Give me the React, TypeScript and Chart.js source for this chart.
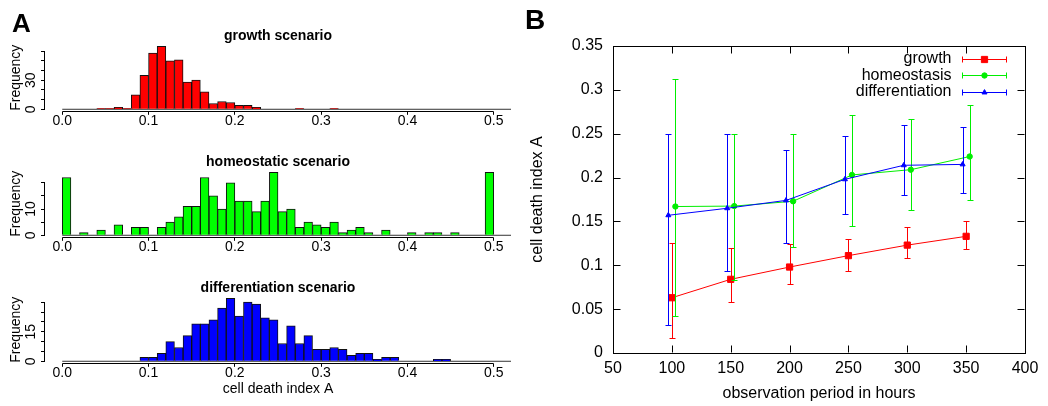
import React, { useEffect, useRef } from "react";
import { Chart, registerables } from "chart.js";

Chart.register(...registerables);

const FONT = '"Liberation Sans", Arial, Helvetica, sans-serif';
Chart.defaults.font.family = FONT;
Chart.defaults.color = "#000";

// ---------------- Panel A: histograms (bins 0.00-0.50, width 0.01) ----------------
const binCenters = [
  0.005, 0.015, 0.025, 0.035, 0.045, 0.055, 0.065, 0.075, 0.085, 0.095,
  0.105, 0.115, 0.125, 0.135, 0.145, 0.155, 0.165, 0.175, 0.185, 0.195,
  0.205, 0.215, 0.225, 0.235, 0.245, 0.255, 0.265, 0.275, 0.285, 0.295,
  0.305, 0.315, 0.325, 0.335, 0.345, 0.355, 0.365, 0.375, 0.385, 0.395,
  0.405, 0.415, 0.425, 0.435, 0.445, 0.455, 0.465, 0.475, 0.485, 0.495,
];
const baselineExtent = [0, 0.52];
const histXTicks = [0, 0.1, 0.2, 0.3, 0.4, 0.5];
const histXTickLabels = ["0.0", "0.1", "0.2", "0.3", "0.4", "0.5"];

const growthCounts = [
  0, 0, 0, 0, 1, 1, 2, 1, 15, 35,
  58, 65, 50, 51, 28, 30, 18, 6, 8, 7,
  4, 4, 2, 0, 0, 0, 0, 1, 0, 0,
  0, 1, 0, 0, 0, 0, 0, 0, 0, 0,
  0, 0, 0, 0, 0, 0, 0, 0, 0, 0,
];
const growthYTicks = [0, 10, 20, 30, 40, 50, 60];
const growthYTickLabels = ["0", "", "", "30", "", "", ""];

const homeoCounts = [
  22, 0, 1, 0, 2, 0, 4, 0, 3, 3,
  0, 3, 5, 7, 11, 11, 22, 15, 10, 20,
  13, 13, 9, 13, 24, 9, 10, 3, 5, 4,
  3, 5, 1, 2, 3, 1, 0, 2, 0, 0,
  1, 0, 1, 1, 0, 1, 0, 0, 0, 24,
];
const homeoYTicks = [0, 5, 10, 15, 20];
const homeoYTickLabels = ["0", "", "10", "", ""];

const diffCounts = [
  0, 0, 0, 0, 0, 0, 0, 0, 0, 2,
  2, 4, 10, 7, 13, 19, 19, 21, 27, 32,
  23, 30, 29, 22, 21, 9, 18, 9, 13, 6,
  6, 7, 6, 3, 4, 4, 1, 2, 2, 0,
  0, 0, 0, 1, 1, 0, 0, 0, 0, 0,
];
const diffYTicks = [0, 5, 10, 15, 20, 25, 30];
const diffYTickLabels = ["0", "", "", "15", "", "", ""];

// ---------------- Panel B: mean cell death index vs observation period ----------------
const hoursGrowth = [100, 150, 200, 250, 300, 350];
const growthMean = [0.063, 0.084, 0.098, 0.111, 0.123, 0.133];
const growthLow = [0.017, 0.058, 0.079, 0.094, 0.108, 0.118];
const growthHigh = [0.125, 0.12, 0.124, 0.13, 0.144, 0.151];

const hoursHomeo = [103, 153, 203, 253, 303, 353];
const homeoMean = [0.167, 0.1675, 0.173, 0.203, 0.209, 0.224];
const homeoLow = [0.042, 0.083, 0.121, 0.1445, 0.163, 0.174];
const homeoHigh = [0.312, 0.25, 0.25, 0.271, 0.2665, 0.283];

const hoursDiff = [97, 147, 197, 247, 297, 347];
const diffMean = [0.157, 0.165, 0.174, 0.198, 0.214, 0.215];
const diffLow = [0.0315, 0.094, 0.125, 0.158, 0.18, 0.182];
const diffHigh = [0.25, 0.25, 0.232, 0.247, 0.2605, 0.258];

const xTicksB = [50, 100, 150, 200, 250, 300, 350, 400];
const xTickLabelsB = ["50", "100", "150", "200", "250", "300", "350", "400"];
const yTicksB = [0, 0.05, 0.1, 0.15, 0.2, 0.25, 0.3, 0.35];
const yTickLabelsB = ["0", "0.05", "0.1", "0.15", "0.2", "0.25", "0.3", "0.35"];

// ---------------- plugins ----------------
const histAxesPlugin = {
  id: "histAxes",
  afterDraw(chart: any) {
    const { ctx, chartArea: a, scales } = chart;
    const x = scales.x;
    const y = scales.y;
    ctx.save();
    ctx.strokeStyle = "#000";
    ctx.lineWidth = 1;
    const yb = Math.round(a.bottom - 0.5) + 0.5;
    const xl = Math.round(a.left) - 0.5;
    ctx.beginPath();
    ctx.moveTo(x.getPixelForValue(x.ticks[0].value), yb);
    ctx.lineTo(x.getPixelForValue(x.ticks[x.ticks.length - 1].value), yb);
    ctx.moveTo(xl, y.getPixelForValue(y.ticks[0].value));
    ctx.lineTo(xl, y.getPixelForValue(y.ticks[y.ticks.length - 1].value));
    ctx.stroke();
    ctx.restore();
  },
};

const TICK_COLOR = "#000";
// inward (gnuplot-style) tick marks on all four sides of the frame
const innerTicksPlugin = {
  id: "innerTicks",
  afterDraw(chart: any) {
    const { ctx, chartArea: a, scales } = chart;
    const x = scales.x;
    const y = scales.y;
    const L = Math.round(a.left) + 0.5;
    const R = Math.round(a.right) - 0.5;
    const T = Math.round(a.top) + 0.5;
    const B = Math.round(a.bottom) - 0.5;
    const tl = 7;
    ctx.save();
    ctx.strokeStyle = TICK_COLOR;
    ctx.lineWidth = 1;
    ctx.beginPath();
    x.ticks.forEach((t: any) => {
      const px = Math.round(x.getPixelForValue(t.value)) + 0.5;
      ctx.moveTo(px, B);
      ctx.lineTo(px, B - tl);
      ctx.moveTo(px, T);
      ctx.lineTo(px, T + tl);
    });
    y.ticks.forEach((t: any) => {
      const py = Math.round(y.getPixelForValue(t.value)) + 0.5;
      ctx.moveTo(L, py);
      ctx.lineTo(L + tl, py);
      ctx.moveTo(R, py);
      ctx.lineTo(R - tl, py);
    });
    ctx.stroke();
    ctx.restore();
  },
};

const errorBarsPlugin = {
  id: "errorBars",
  beforeDatasetDraw(chart: any, args: any) {
    const ds = chart.data.datasets[args.index];
    if (!ds.errLow) return;
    const { ctx, scales } = chart;
    const x = scales.x;
    const y = scales.y;
    ctx.save();
    ctx.strokeStyle = ds.borderColor;
    ctx.lineWidth = 1;
    ctx.beginPath();
    ds.data.forEach((p: any, i: number) => {
      const px = Math.round(x.getPixelForValue(p.x)) + 0.5;
      const y1 = Math.round(y.getPixelForValue(ds.errLow[i])) + 0.5;
      const y2 = Math.round(y.getPixelForValue(ds.errHigh[i])) + 0.5;
      ctx.moveTo(px, y1);
      ctx.lineTo(px, y2);
      ctx.moveTo(px - 3, y1);
      ctx.lineTo(px + 3, y1);
      ctx.moveTo(px - 3, y2);
      ctx.lineTo(px + 3, y2);
    });
    ctx.stroke();
    ctx.restore();
  },
};

function drawMarker(ctx: CanvasRenderingContext2D, style: string, r: number, cx: number, cy: number, color: string) {
  ctx.fillStyle = color;
  ctx.strokeStyle = color;
  ctx.lineWidth = 1;
  ctx.beginPath();
  if (style === "rect") {
    const s = r * Math.SQRT1_2;
    ctx.rect(cx - s, cy - s, 2 * s, 2 * s);
  } else if (style === "triangle") {
    ctx.moveTo(cx, cy - r);
    ctx.lineTo(cx + r * Math.sin((2 * Math.PI) / 3), cy - r * Math.cos((2 * Math.PI) / 3));
    ctx.lineTo(cx + r * Math.sin((4 * Math.PI) / 3), cy - r * Math.cos((4 * Math.PI) / 3));
    ctx.closePath();
  } else {
    ctx.arc(cx, cy, r, 0, Math.PI * 2);
  }
  ctx.fill();
  ctx.stroke();
}

const keyPlugin = {
  id: "gnuplotKey",
  afterDatasetsDraw(chart: any) {
    const { ctx, chartArea: a } = chart;
    ctx.save();
    chart.data.datasets.forEach((ds: any, i: number) => {
      const cy = a.top + 12.6 + i * 16.5;
      const ry = Math.round(cy) + 0.5;
      ctx.font = `16px ${FONT}`;
      ctx.fillStyle = "#000";
      ctx.textAlign = "right";
      ctx.textBaseline = "middle";
      ctx.fillText(ds.label, a.right - 73.5, cy);
      const x1 = Math.round(a.right - 63.5) + 0.5;
      const x2 = Math.round(a.right - 19.5) + 0.5;
      ctx.strokeStyle = ds.borderColor;
      ctx.lineWidth = 1;
      ctx.beginPath();
      ctx.moveTo(x1, ry);
      ctx.lineTo(x2, ry);
      ctx.moveTo(x1, ry - 3);
      ctx.lineTo(x1, ry + 3);
      ctx.moveTo(x2, ry - 3);
      ctx.lineTo(x2, ry + 3);
      ctx.stroke();
      drawMarker(ctx, ds.pointStyle, ds.pointRadius, (x1 + x2) / 2, ry, ds.borderColor);
    });
    ctx.restore();
  },
};

// ---------------- components ----------------
type HistProps = {
  top: number;
  height: number;
  title: string;
  counts: number[];
  color: string;
  yTicks: number[];
  yTickLabels: string[];
  xTitle?: string;
};

function Histogram(p: HistProps) {
  const ref = useRef<HTMLCanvasElement>(null);
  useEffect(() => {
    const maxCount = Math.max(...p.counts);
    const chart = new Chart(ref.current as HTMLCanvasElement, {
      type: "bar",
      data: {
        datasets: [
          {
            type: "bar",
            data: binCenters.map((x, i) => ({ x, y: p.counts[i] })),
            backgroundColor: p.color,
            borderColor: "#111",
            borderWidth: 1,
            barPercentage: 1,
            categoryPercentage: 1,
            order: 0,
          } as any,
          {
            type: "line",
            data: baselineExtent.map((x) => ({ x, y: 0 })),
            borderColor: "#333",
            borderWidth: 1,
            pointRadius: 0,
            order: 1,
          } as any,
        ],
      },
      options: {
        animation: false,
        responsive: false,
        events: [],
        layout: { padding: { left: 0, right: 9, top: 0, bottom: 0 } },
        plugins: {
          legend: { display: false },
          tooltip: { enabled: false },
          title: {
            display: true,
            text: p.title,
            color: "#000",
            fullSize: false,
            font: { family: FONT, size: 14, weight: "bold", lineHeight: 1 },
            padding: { top: 29.5, bottom: 0.2 },
          },
        },
        scales: {
          x: {
            type: "linear",
            min: -0.02,
            max: 0.52,
            offset: false,
            afterBuildTicks: (s: any) => {
              s.ticks = histXTicks.map((v) => ({ value: v }));
            },
            afterFit: (s: any) => {
              s.height = p.height - 111.8;
            },
            ticks: {
              autoSkip: false,
              maxRotation: 0,
              color: "#000",
              padding: -1,
              font: { family: FONT, size: 14, lineHeight: 1 },
              callback: (_v: any, i: number) => histXTickLabels[i],
            },
            grid: { drawOnChartArea: false, drawTicks: true, tickLength: 3, tickColor: "#000", offset: false },
            border: { display: false },
            title: {
              display: !!p.xTitle,
              text: p.xTitle || "",
              color: "#000",
              font: { family: FONT, size: 14 },
              padding: { top: 0, bottom: 8.6 },
            },
          } as any,
          y: {
            type: "linear",
            min: -0.04 * maxCount,
            max: 1.04 * maxCount,
            afterBuildTicks: (s: any) => {
              s.ticks = p.yTicks.map((v) => ({ value: v }));
            },
            afterFit: (s: any) => {
              s.width = 45;
            },
            ticks: {
              autoSkip: false,
              minRotation: 90,
              maxRotation: 90,
              crossAlign: "center",
              padding: 2.4,
              color: "#000",
              font: { family: FONT, size: 14 },
              callback: (_v: any, i: number) => p.yTickLabels[i],
            },
            grid: { drawOnChartArea: false, drawTicks: true, tickLength: 4, tickColor: "#000" },
            border: { display: false },
            title: {
              display: true,
              text: "Frequency",
              color: "#000",
              font: { family: FONT, size: 14 },
              padding: { top: 7.6, bottom: 0 },
            },
          } as any,
        },
      },
      plugins: [histAxesPlugin],
    });
    return () => chart.destroy();
  }, []);
  return (
    <canvas
      ref={ref}
      width={520}
      height={p.height}
      style={{ position: "absolute", left: 0, top: p.top, width: 520, height: p.height, display: "block" }}
    />
  );
}

function PanelB() {
  const ref = useRef<HTMLCanvasElement>(null);
  useEffect(() => {
    const mk = (label: string, xs: number[], ys: number[], lo: number[], hi: number[], color: string, style: string, r: number, order: number) =>
      ({
        label,
        data: xs.map((x, i) => ({ x, y: ys[i] })),
        errLow: lo,
        errHigh: hi,
        borderColor: color,
        backgroundColor: color,
        borderWidth: 1,
        pointStyle: style,
        pointRadius: r,
        pointBorderWidth: 1,
        pointBackgroundColor: color,
        pointBorderColor: color,
        tension: 0,
        clip: false,
        order,
      } as any);
    const frameBorder = { display: true, color: "#000", width: 1 };
    const noGrid = { display: false, drawTicks: false };
    const chart = new Chart(ref.current as HTMLCanvasElement, {
      type: "line",
      data: {
        datasets: [
          mk("growth", hoursGrowth, growthMean, growthLow, growthHigh, "#ff0000", "rect", 4.4, 3),
          mk("homeostasis", hoursHomeo, homeoMean, homeoLow, homeoHigh, "#00ee00", "circle", 2.7, 2),
          mk("differentiation", hoursDiff, diffMean, diffLow, diffHigh, "#0000ff", "triangle", 2.9, 1),
        ],
      },
      options: {
        animation: false,
        responsive: false,
        events: [],
        layout: { padding: { left: 0, right: 23, top: 46, bottom: 0 } },
        plugins: { legend: { display: false }, tooltip: { enabled: false } },
        scales: {
          x: {
            type: "linear",
            position: "bottom",
            min: 50,
            max: 400,
            afterBuildTicks: (s: any) => {
              s.ticks = xTicksB.map((v) => ({ value: v }));
            },
            afterFit: (s: any) => {
              s.height = 53;
            },
            ticks: {
              autoSkip: false,
              maxRotation: 0,
              padding: 6,
              color: "#000",
              font: { family: FONT, size: 16 },
              callback: (_v: any, i: number) => xTickLabelsB[i],
            },
            grid: noGrid,
            border: frameBorder,
            title: {
              display: true,
              text: "observation period in hours",
              color: "#000",
              font: { family: FONT, size: 16 },
              padding: { top: 0, bottom: 2.4 },
            },
          } as any,
          xTop: {
            type: "linear",
            position: "top",
            min: 50,
            max: 400,
            afterFit: (s: any) => {
              s.height = 0;
            },
            ticks: { display: false },
            grid: noGrid,
            border: frameBorder,
          } as any,
          y: {
            type: "linear",
            position: "left",
            min: 0,
            max: 0.35,
            afterBuildTicks: (s: any) => {
              s.ticks = yTicksB.map((v) => ({ value: v }));
            },
            afterFit: (s: any) => {
              s.width = 93;
            },
            ticks: {
              autoSkip: false,
              padding: 10,
              color: "#000",
              font: { family: FONT, size: 16 },
              callback: (_v: any, i: number) => yTickLabelsB[i],
            },
            grid: noGrid,
            border: frameBorder,
            title: {
              display: true,
              text: "cell death index A",
              color: "#000",
              font: { family: FONT, size: 16 },
              padding: { top: 8, bottom: 0 },
            },
          } as any,
          yRight: {
            type: "linear",
            position: "right",
            min: 0,
            max: 0.35,
            afterFit: (s: any) => {
              s.width = 0;
            },
            ticks: { display: false },
            grid: noGrid,
            border: frameBorder,
          } as any,
        },
      },
      plugins: [errorBarsPlugin, keyPlugin, innerTicksPlugin],
    });
    return () => chart.destroy();
  }, []);
  return (
    <canvas
      ref={ref}
      width={528}
      height={406}
      style={{ position: "absolute", left: 520, top: 0, width: 528, height: 406, display: "block" }}
    />
  );
}

export default function App() {
  return (
    <div
      style={{
        position: "fixed",
        left: 0,
        top: 0,
        width: 1048,
        height: 406,
        background: "#fff",
        overflow: "hidden",
      }}
    >
      <Histogram top={0} height={126} title="growth scenario" counts={growthCounts} color="#ff0000" yTicks={growthYTicks} yTickLabels={growthYTickLabels} />
      <Histogram top={126} height={126} title="homeostatic scenario" counts={homeoCounts} color="#00ff00" yTicks={homeoYTicks} yTickLabels={homeoYTickLabels} />
      <Histogram top={252} height={154} title="differentiation scenario" counts={diffCounts} color="#0000ff" yTicks={diffYTicks} yTickLabels={diffYTickLabels} xTitle="cell death index A" />
      <PanelB />
      <div style={{ position: "absolute", left: 12, top: 10, fontFamily: FONT, fontWeight: "bold", fontSize: 26, lineHeight: "26px" }}>A</div>
      <div style={{ position: "absolute", left: 525, top: 6, fontFamily: FONT, fontWeight: "bold", fontSize: 28, lineHeight: "28px" }}>B</div>
    </div>
  );
}
